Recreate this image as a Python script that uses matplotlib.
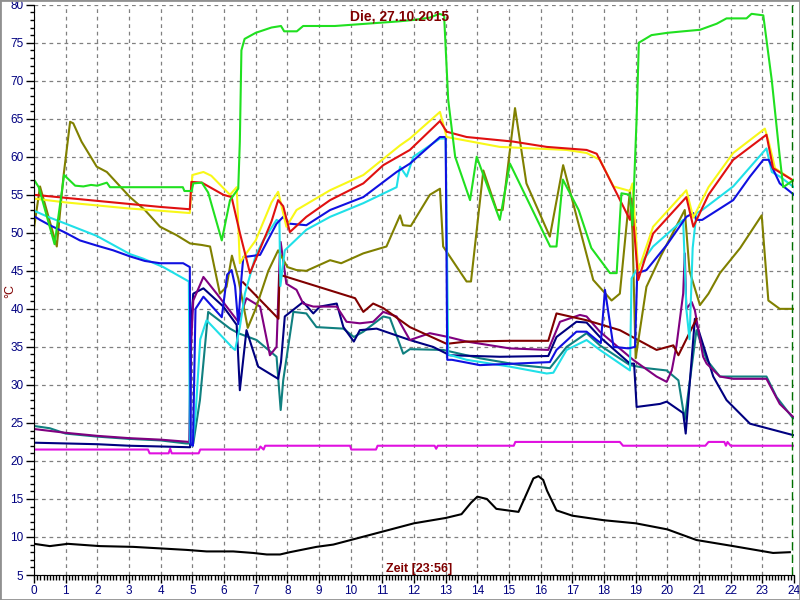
import matplotlib.pyplot as plt
from matplotlib.patches import Rectangle
from matplotlib.ticker import MultipleLocator

plt.rcParams['font.family'] = ['Liberation Sans', 'DejaVu Sans']

# Stunden / Temperatur (°C)
gruen_t = [0, 0.15, 0.65, 0.95, 1.1, 1.3, 1.56, 1.8, 2.0, 2.3, 2.4, 4.7, 4.75, 4.98, 5.03, 5.3, 5.5, 5.93, 6.19,
           6.45, 6.5, 6.55, 6.65, 7.0, 7.5, 7.8, 7.9, 8.3, 8.5, 9.5, 10.5, 11.5, 12.0, 12.5, 12.8, 12.95, 13.08,
           13.3, 13.77, 13.98, 14.71, 15.03, 16.3, 16.5, 16.7, 17.2, 17.6, 18.19, 18.4, 18.55, 18.82, 18.9, 19.03,
           19.1, 19.5, 20.0, 20.5, 21.03, 21.56, 21.87, 22.5, 22.66, 23.03, 23.3, 23.55, 23.66, 24.0]
gruen_v = [57.0, 56.0, 48.5, 57.6, 57.0, 56.2, 56.1, 56.3, 56.2, 56.6, 56.0, 56.0, 55.5, 55.5, 56.5, 56.6, 55.3, 49.0,
           54.3, 55.8, 62.0, 74.0, 75.5, 76.3, 77.0, 77.2, 76.5, 76.5, 77.2, 77.2, 77.5, 77.8, 78.0, 78.3, 78.8, 78.6,
           67.5, 60.0, 54.3, 60.0, 51.7, 59.1, 48.2, 48.2, 57.0, 53.0, 48.0, 44.7, 44.7, 55.2, 55.0, 51.0, 65.0,
           75.0, 76.0, 76.3, 76.5, 76.7, 77.5, 78.2, 78.2, 78.8, 78.6, 70.0, 60.0, 56.0, 57.0]

rot_t = [0, 1, 2, 3, 4, 4.92, 4.97, 5.3, 5.98, 6.24, 6.5, 6.82, 7.0, 7.5, 7.71, 7.87, 8.08, 8.6, 9.35, 10.4, 11.03,
         11.87, 12.82, 13.03, 13.66, 15.13, 16.19, 17.45, 17.77, 18.4, 18.82, 18.87, 19.08, 19.55, 20.6, 20.82, 21.3,
         22.08, 23.13, 23.34, 23.97]
rot_v = [55.0, 54.6, 54.2, 53.8, 53.4, 53.1, 56.7, 56.6, 55.0, 54.7, 50.0, 44.7, 46.5, 51.5, 54.3, 53.5, 50.1, 52.1,
         54.3, 56.5, 58.9, 60.9, 64.7, 63.3, 62.6, 62.0, 61.3, 60.9, 60.4, 55.2, 51.7, 54.5, 43.8, 49.9, 54.7, 50.8,
         55.0, 59.6, 62.9, 58.5, 56.9]

gelb_t = [0, 1, 2, 3, 4, 4.92, 5.0, 5.35, 5.6, 5.93, 6.19, 6.4, 6.5, 6.65, 7.0, 7.5, 7.71, 7.97, 8.29, 9.35, 10.4,
          11.56, 11.87, 12.82, 13.03, 14.71, 16.82, 17.45, 17.87, 18.3, 18.82, 18.9, 19.08, 19.55, 20.6, 20.82, 21.3,
          22.08, 23.08, 23.2, 23.4, 23.97]
gelb_v = [54.5, 54.0, 53.6, 53.2, 52.9, 52.6, 57.6, 58.0, 57.5, 56.1, 55.0, 56.0, 46.0, 47.0, 49.0, 54.0, 55.4, 50.8,
          53.0, 55.6, 57.6, 61.5, 62.4, 65.9, 62.6, 61.3, 60.9, 60.5, 59.6, 56.1, 55.5, 56.5, 45.0, 50.8, 55.6, 52.0,
          56.0, 60.5, 63.7, 62.0, 58.5, 56.9]

blau_t = [0, 0.19, 0.5, 1.0, 1.45, 2.0, 2.5, 3.03, 3.5, 3.98, 4.71, 4.92, 4.95, 5.02, 5.1, 5.35, 5.93, 6.1, 6.24,
          6.35, 6.45, 6.55, 6.61, 7.14, 7.66, 7.87, 8.08, 8.6, 9.35, 10.4, 11.45, 11.87, 12.82, 13.0, 13.05, 13.2,
          14.08, 16.29, 16.5, 17.13, 17.45, 17.77, 17.9, 18.03, 18.3, 18.77, 18.98, 19.05, 19.34, 20.0, 20.6, 20.82,
          20.92, 21.1, 22.08, 22.61, 23.03, 23.2, 23.55, 24.0]
blau_v = [52.2, 51.7, 51.0, 50.0, 49.0, 48.3, 47.7, 46.9, 46.3, 46.0, 46.0, 45.5, 22.2, 22.0, 40.0, 41.6, 38.9, 44.5,
          45.1, 43.0, 38.0, 44.0, 46.8, 47.1, 51.2, 52.1, 51.2, 51.0, 53.0, 54.7, 58.0, 59.1, 62.6, 62.6, 33.3, 33.3,
          32.6, 33.0, 34.6, 37.0, 37.0, 35.9, 35.5, 42.5, 35.0, 34.8, 35.0, 44.7, 45.1, 48.5, 52.1, 52.6, 51.7, 51.7,
          54.3, 57.4, 59.6, 59.6, 56.5, 55.0]

cyan_t = [0, 0.5, 1.0, 1.98, 3.03, 3.45, 4.08, 4.89, 4.92, 5.0, 5.1, 5.25, 5.45, 6.29, 6.35, 6.5, 6.66, 7.0, 7.24,
          7.66, 7.75, 7.78, 7.92, 8.6, 9.35, 10.4, 11.45, 11.56, 11.77, 11.98, 12.82, 13.0, 13.08, 13.66, 15.03,
          16.19, 16.4, 16.82, 17.45, 17.87, 18.82, 18.87, 19.08, 19.55, 20.5, 20.6, 20.7, 20.8, 20.92, 21.1, 22.08,
          23.13, 23.3, 23.55, 24.0]
cyan_v = [52.9, 52.0, 51.2, 49.6, 47.2, 46.6, 45.5, 43.6, 22.5, 22.0, 26.0, 36.0, 38.5, 34.8, 34.6, 37.6, 42.0, 47.0,
          49.0, 51.7, 51.5, 43.0, 47.7, 50.4, 52.1, 53.9, 56.0, 58.7, 57.4, 60.0, 62.4, 62.4, 34.0, 33.3, 32.4, 31.5,
          31.6, 34.6, 35.9, 34.6, 31.9, 44.0, 45.5, 48.2, 51.7, 40.0, 36.0, 48.0, 52.6, 53.0, 56.1, 61.1, 58.0, 57.4,
          56.0]

oliv_t = [0, 0.19, 0.72, 0.93, 1.14, 1.24, 1.5, 1.98, 2.3, 3.03, 3.5, 3.98, 4.5, 4.93, 5.3, 5.56, 5.87, 6.08, 6.25,
          6.45, 6.75, 7.0, 7.4, 7.71, 8.0, 8.29, 8.6, 9.35, 9.7, 10.4, 11.13, 11.56, 11.65, 11.9, 12.5, 12.82, 12.92,
          13.66, 13.8, 14.19, 14.61, 14.8, 15.19, 15.55, 16.29, 16.71, 17.66, 18.24, 18.5, 18.82, 18.9, 19.0, 19.34,
          19.8, 20.3, 20.55, 20.7, 21.03, 21.3, 21.66, 22.3, 22.98, 23.19, 23.55, 24.0]
oliv_v = [50.6, 56.1, 48.2, 57.4, 64.6, 64.4, 62.0, 58.7, 58.0, 54.7, 53.0, 50.8, 49.7, 48.6, 48.4, 48.2, 42.0, 42.9,
          47.0, 44.0, 37.5, 40.0, 45.0, 47.7, 45.5, 45.1, 45.0, 46.4, 46.0, 47.3, 48.2, 52.3, 51.0, 50.9, 55.0, 55.8,
          48.2, 43.6, 43.6, 58.2, 53.0, 53.0, 66.4, 56.5, 49.5, 58.9, 43.8, 41.1, 42.0, 55.6, 50.0, 33.5, 42.9, 47.0,
          51.0, 53.0, 45.0, 40.5, 42.0, 44.7, 48.0, 52.3, 41.1, 40.0, 40.0]

braun_t = [6.6, 7.72, 7.75, 10.14, 10.4, 10.71, 11.03, 11.87, 13.03, 13.66, 15.03, 16.24, 16.5, 17.45, 18.5, 19.66,
           20.19, 20.35, 20.92]
braun_v = [43.5, 38.7, 44.5, 41.4, 39.6, 40.7, 40.1, 37.6, 35.4, 35.7, 35.8, 35.8, 39.4, 38.5, 37.2, 34.6, 35.2, 33.9,
           38.7]

lila_t = [0, 1, 2, 3, 4, 4.9, 4.95, 5.03, 5.35, 5.77, 6.45, 6.71, 7.14, 7.45, 7.66, 7.76, 7.79, 7.97, 8.29, 8.5,
          8.82, 9.56, 9.87, 10.29, 10.71, 11.03, 11.45, 11.87, 12.5, 13.08, 13.66, 15.03, 16.24, 16.61, 17.24, 17.45,
          17.87, 18.92, 19.66, 19.98, 20.14, 20.29, 20.5, 20.55, 20.6, 20.77, 20.87, 21.13, 21.24, 21.66, 22.08, 23.13,
          23.55, 23.97]
lila_v = [24.2, 23.7, 23.3, 23.0, 22.8, 22.5, 34.5, 41.1, 44.2, 42.0, 38.3, 41.4, 40.3, 33.9, 35.0, 47.0, 48.8, 43.3,
          42.5, 40.7, 40.3, 40.3, 38.3, 38.1, 38.3, 39.6, 39.0, 35.9, 36.8, 36.3, 35.7, 34.8, 34.6, 38.3, 39.2, 39.0,
          37.0, 33.3, 31.1, 30.4, 31.9, 35.2, 42.0, 47.3, 40.0, 40.9, 39.8, 33.7, 32.8, 31.1, 30.8, 30.8, 27.5, 25.8]

navy_t = [0, 1, 2, 3, 4, 4.93, 4.96, 5.03, 5.35, 5.98, 6.4, 6.5, 6.71, 7.08, 7.71, 7.8, 7.92, 8.5, 8.82, 9.03, 9.56,
          9.77, 10.1, 10.29, 10.82, 11.24, 11.87, 12.6, 13.13, 14.71, 16.24, 16.5, 17.13, 17.45, 17.87, 18.82, 18.95,
          19.03, 19.77, 19.98, 20.5, 20.58, 20.87, 21.45, 21.87, 22.61, 23.97]
navy_v = [22.4, 22.3, 22.2, 22.0, 21.9, 21.8, 38.0, 42.0, 42.7, 40.3, 37.9, 29.3, 37.2, 32.4, 30.8, 33.0, 39.0, 40.9,
          39.4, 40.3, 40.7, 37.6, 35.7, 37.2, 37.4, 36.8, 35.9, 35.0, 33.9, 33.7, 33.8, 36.3, 38.3, 38.2, 36.3, 32.8,
          32.8, 27.1, 27.5, 27.8, 26.3, 23.6, 38.7, 31.1, 28.0, 24.9, 23.4]

petrol_t = [0, 0.5, 1, 2, 3, 4, 4.8, 5.03, 5.24, 5.5, 6.19, 6.45, 7.03, 7.66, 7.79, 7.87, 8.19, 8.6, 8.92, 9.77,
            10.1, 10.4, 11.03, 11.24, 11.66, 11.87, 12.92, 14.08, 15.35, 16.29, 16.82, 17.45, 17.87, 18.82, 19.34,
            19.98, 20.35, 20.55, 20.92, 21.24, 21.66, 23.13, 23.45, 23.97]
petrol_v = [24.6, 24.3, 23.6, 23.2, 22.9, 22.7, 22.3, 22.3, 28.0, 39.6, 37.4, 36.8, 35.9, 33.7, 26.7, 30.6, 39.6, 39.4,
            37.6, 37.4, 36.3, 37.0, 39.0, 38.8, 34.1, 34.7, 34.6, 33.5, 32.6, 32.2, 35.0, 36.8, 35.2, 32.6, 32.2, 31.9,
            30.6, 25.4, 37.2, 33.3, 31.1, 31.1, 28.4, 25.6]

magenta_t = [0, 3.6, 3.65, 4.25, 4.3, 4.35, 5.2, 5.25, 7.1, 7.15, 7.25, 7.3, 9.98, 10.02, 10.8, 10.85, 12.65, 12.7,
             12.75, 15.15, 15.2, 18.5, 18.6, 21.2, 21.3, 21.8, 21.85, 21.9, 22.0, 24.0]
magenta_v = [21.5, 21.5, 21.0, 21.0, 21.6, 21.0, 21.0, 21.5, 21.5, 21.9, 21.5, 22.0, 22.0, 21.5, 21.5, 22.0, 22.0, 21.6,
             22.0, 22.0, 22.5, 22.5, 22.0, 22.0, 22.5, 22.5, 22.0, 22.5, 22.0, 22.0]

aussen_t = [0, 0.5, 1.07, 2.08, 3.13, 3.98, 4.82, 5.45, 6.29, 6.92, 7.35, 7.77, 8.08, 8.92, 9.45, 10.0, 11.0, 12.0,
            13.0, 13.5, 13.8, 14.0, 14.3, 14.6, 15.3, 15.6, 15.77, 15.93, 16.08, 16.2, 16.5, 17.0, 18.0, 19.0, 20.0,
            20.92, 22.08, 22.92, 23.34, 23.87]
aussen_v = [9.1, 8.8, 9.1, 8.8, 8.7, 8.5, 8.3, 8.1, 8.1, 7.9, 7.7, 7.7, 8.0, 8.7, 9.0, 9.6, 10.7, 11.8, 12.5, 13.0,
            14.5, 15.3, 15.0, 13.7, 13.3, 16.1, 17.7, 18.0, 17.5, 16.1, 13.5, 12.8, 12.2, 11.8, 11.0, 9.6, 8.8, 8.2,
            7.9, 8.0]

datum = 'Die, 27.10.2015'
jetzt = 23 + 56 / 60

fig = plt.figure(figsize=(8, 6), dpi=100)
ax = fig.add_axes([34 / 800, 25 / 600, 760 / 800, 570.3 / 600])

lw = 1.5
ax.plot(aussen_t, aussen_v, color='black', lw=lw)
ax.plot(magenta_t, magenta_v, color='#e010e0', lw=lw)
ax.plot(petrol_t, petrol_v, color='#108080', lw=lw)
ax.plot(navy_t, navy_v, color='#000080', lw=lw)
ax.plot(lila_t, lila_v, color='#800080', lw=lw)
ax.plot(braun_t, braun_v, color='#800000', lw=lw)
ax.plot(oliv_t, oliv_v, color='#808000', lw=lw)
ax.plot(cyan_t, cyan_v, color='#20e0e8', lw=lw)
ax.plot(blau_t, blau_v, color='#1010e0', lw=lw)
ax.plot(gelb_t, gelb_v, color='#f8f818', lw=lw)
ax.plot(rot_t, rot_v, color='#e01010', lw=lw)
ax.plot(gruen_t, gruen_v, color='#20e020', lw=lw)

ax.axvline(jetzt, color='#007000', lw=1, linestyle=(0, (6, 3)))

ax.set_xlim(0, 24)
ax.set_ylim(5, 80)
ax.xaxis.set_major_locator(MultipleLocator(1))
ax.xaxis.set_minor_locator(MultipleLocator(0.1))
ax.yaxis.set_major_locator(MultipleLocator(5))
ax.yaxis.set_minor_locator(MultipleLocator(1))
ax.grid(True, which='major', color='#808080', linestyle=(0, (3, 3)), lw=0.9)

for s in ['top', 'right']:
    ax.spines[s].set_visible(False)
ax.spines['left'].set_color('black')
ax.spines['bottom'].set_color('black')

ax.tick_params(axis='x', which='major', length=6, width=1, pad=1.5, labelsize=8.5, labelcolor='#000080')
ax.tick_params(axis='x', which='minor', length=3.5, width=1)
ax.tick_params(axis='y', which='major', length=6, width=1, pad=1.5, labelsize=8.5, labelcolor='#000080')
ax.tick_params(axis='y', which='minor', length=3, width=1)

fig.text(0.5, 0.972, datum, ha='center', va='center', color='#800000', fontsize=10, fontweight='bold')
fig.text(419 / 800, 1 - 569 / 600, 'Zeit [23:56]', ha='center', va='center', color='#800000',
         fontsize=9, fontweight='bold')
fig.text(10 / 800, 1 - 291 / 600, '°C', ha='center', va='center', rotation=90, color='#800000', fontsize=9)

fig.patches.append(Rectangle((0, 0), 1, 1, transform=fig.transFigure, fill=False, edgecolor='#909090', lw=2))

fig.savefig('out.png', dpi=100)
